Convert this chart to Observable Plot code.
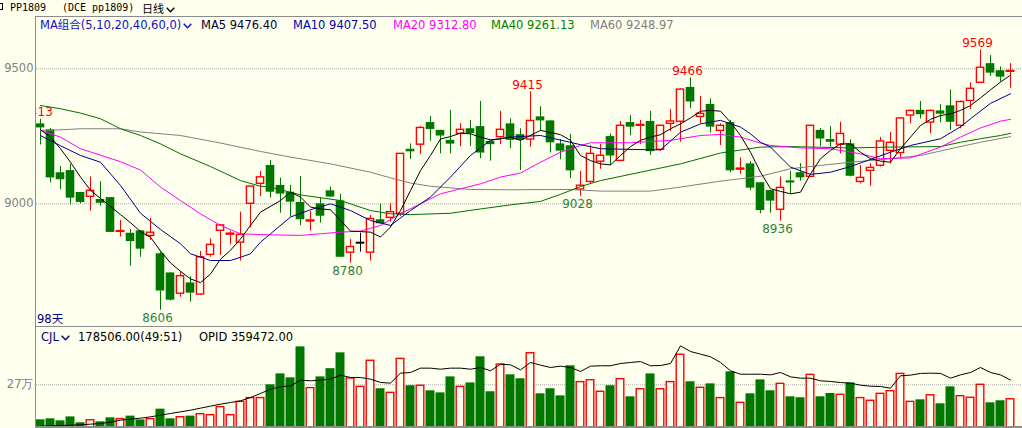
<!DOCTYPE html>
<html>
<head>
<meta charset="utf-8">
<script src="https://cdn.jsdelivr.net/npm/d3@7"></script>
<script src="https://cdn.jsdelivr.net/npm/@observablehq/plot@0.6"></script>
<style>
html,body{margin:0;padding:0;background:#FFFFED;}
#wrap{position:relative;width:1022px;height:428px;overflow:hidden;background:#FFFFED;font-family:"DejaVu Sans","Noto Sans CJK SC",sans-serif;font-size:11.5px;line-height:1;}
#wrap .t{position:absolute;white-space:nowrap;line-height:1;}
#wrap .ln{position:absolute;background:#8C8C8C;}
#wrap .pl{position:absolute;left:0;}
.chev{display:inline-block;vertical-align:baseline;margin-left:2px;}
</style>
</head>
<body>
<div id="wrap">
  <div class="t" style="left:-4px;top:3px;width:5px;height:5px;border:1px solid #000;"></div>
  <div class="t" style="left:10px;top:3px;font-family:'DejaVu Sans Mono',monospace;font-size:10px;color:#000;">PP1809</div>
  <div class="t" style="left:62px;top:3px;font-family:'DejaVu Sans Mono',monospace;font-size:10px;color:#000;">(DCE pp1809)</div>
  <div class="t" style="left:142px;top:2px;line-height:13px;font-family:'Noto Sans CJK SC',sans-serif;font-size:11px;color:#000;">日线<svg class="chev" width="9" height="6" viewBox="0 0 9 6"><polyline points="0.7,0.7 4.5,4.8 8.3,0.7" fill="none" stroke="#000" stroke-width="1.4"/></svg></div>

  <div class="t" style="left:40px;top:20px;color:#1010C8;">MA组合(5,10,20,40,60,0)<svg class="chev" width="9" height="6" viewBox="0 0 9 6"><polyline points="0.7,0.7 4.5,4.8 8.3,0.7" fill="none" stroke="#1010C8" stroke-width="1.4"/></svg></div>
  <div class="t" style="left:201px;top:20px;color:#000033;">MA5 9476.40</div>
  <div class="t" style="left:293px;top:20px;color:#0000B0;">MA10 9407.50</div>
  <div class="t" style="left:393px;top:20px;color:#FF00FF;">MA20 9312.80</div>
  <div class="t" style="left:491px;top:20px;color:#008000;">MA40 9261.13</div>
  <div class="t" style="left:590px;top:20px;color:#808080;">MA60 9248.97</div>

  <div class="t" style="left:37px;top:314px;color:#000080;">98天</div>

  <div class="t" style="left:41px;top:332px;color:#000080;">CJL<svg class="chev" width="9" height="6" viewBox="0 0 9 6"><polyline points="0.7,0.7 4.5,4.8 8.3,0.7" fill="none" stroke="#000080" stroke-width="1.4"/></svg></div>
  <div class="t" style="left:78px;top:332px;color:#000;">178506.00(49:51)</div>
  <div class="t" style="left:199px;top:332px;color:#000;">OPID 359472.00</div>
</div>
<script>
// ---------- data ----------
const priceTicks = [9000, 9500];
const volTicks = [270000];

const opens  = [9296,9274,9115,9123,9042,9026,9016,9023,8897,8891, 8900,8881,8815,8744,8667,8707,8664,8811,8900,8887,
                8856,9000,9074,9142,9068,9043,9005,8936,9000,9048, 9011,8819,8856,8819,8941,8948,8963,9202,9219,9301,
                9272,9235,9259,9278,9286,9231,9247,9296,9256,9238, 9322,9307,9222,9215,9053,9081,9156,9249,9159,9301,
                9289,9305,9200,9296,9304,9431,9322,9368,9270,9301, 9128,9148,9078,9049,8978,9085,9115,9100,9272,9238,
                9219,9222,9081,9122,9141,9196,9188,9327,9346,9301, 9344,9363,9289,9381,9448,9519,9493,9490];
const highs  = [9313,9279,9138,9146,9042,9099,9081,9023,8938,8905, 8900,8946,8821,8744,8749,8730,8823,8870,8923,8898,
                8969,9064,9120,9160,9095,9068,9101,8972,9021,9062, 9035,8868,8891,8957,8998,9000,9185,9222,9286,9323,
                9272,9346,9296,9309,9379,9231,9342,9315,9278,9415, 9360,9307,9238,9257,9120,9216,9220,9259,9305,9327,
                9309,9342,9291,9349,9426,9466,9398,9389,9296,9309, 9170,9157,9078,9049,9099,9120,9149,9289,9279,9286,
                9302,9237,9142,9149,9246,9264,9320,9347,9379,9347, 9367,9422,9381,9448,9569,9549,9507,9519];
const lows   = [9218,9077,9052,8996,9000,8973,8991,8894,8877,8769, 8802,8864,8606,8640,8654,8636,8660,8802,8809,8848,
                8788,8911,9027,9021,8965,8951,8919,8899,8928,9025, 8802,8780,8821,8788,8926,8932,8953,9164,9183,9232,
                9185,9185,9212,9212,9167,9158,9219,9204,9123,9210, 9269,9188,9163,9093,9028,9072,9128,9142,9159,9252,
                9219,9179,9194,9268,9228,9352,9296,9262,9216,9115, 9110,9049,8963,8965,8936,9037,9084,9100,9212,9210,
                9185,9100,9074,9065,9136,9147,9170,9296,9314,9259, 9300,9272,9278,9349,9448,9472,9451,9428];
const closes = [9281,9096,9089,9021,9005,9048,9002,8894,8899,8860, 8832,8893,8677,8643,8732,8669,8802,8848,8920,8889,
                8885,9064,9098,9043,9036,9006,8941,8938,8954,9025, 8802,8840,8856,8944,8926,8969,9185,9198,9281,9275,
                9251,9221,9274,9260,9188,9219,9274,9235,9235,9307, 9307,9226,9195,9122,9067,9185,9178,9177,9289,9284,
                9292,9193,9289,9305,9423,9377,9333,9284,9289,9122, 9130,9058,8975,9010,9059,9077,9096,9289,9240,9228,
                9259,9102,9096,9133,9231,9226,9316,9344,9330,9344, 9332,9302,9377,9426,9504,9484,9469,9492];
const volumes = [48500,55000,42000,67000,30000,46000,36000,61000,53000,72000,
                 48000,53000,116000,55000,65000,72000,84000,78000,129000,78000,
                 162000,186000,186000,270000,339000,314000,510000,249000,320000,372000,
                 472000,310000,257000,422000,245000,219000,434000,264000,264000,232000,
                 219000,320000,257000,282000,447000,226000,398000,333000,308000,470000,
                 213000,245000,200000,390000,287000,299000,226000,264000,306000,194000,
                 242000,339000,242000,287000,460000,289000,251000,276000,186000,352000,
                 156000,213000,301000,232000,276000,194000,188000,333000,194000,215000,
                 207000,282000,186000,169000,213000,230000,339000,162000,175000,204000,
                 150000,257000,198000,188000,270000,156000,169000,178506];
const openInterest = [10100,12600,15200,17700,20200,25300,30300,40400,55600,63200,
                 70800,80900,93500,106200,118800,131500,146600,161800,177000,189600,
                 202200,227500,257900,290700,308400,316000,359000,354000,359000,366600,
                 396900,379200,379200,366600,341300,336200,412000,417000,450000,450000,
                 442000,450000,450000,442000,455000,430000,480000,475000,437000,493000,
                 473000,455000,465000,455000,425000,465000,468000,468000,485000,493000,
                 500000,468000,470000,485000,619000,576000,556000,536000,493000,430000,
                 404000,404000,404000,399000,417000,384000,374000,374000,354000,349000,
                 341000,336000,321000,313000,311000,298000,392000,397000,410000,412000,
                 410000,374000,399000,417000,455000,417000,399000,359472];

// moving averages: [day index, value]
const ma5 = [[0,9274],[1,9247],[2,9204],[3,9154],[4,9099],[5,9050],[6,9020],[7,8990],[8,8960],[9,8930],[10,8897],[11,8876],[12,8825],[13,8781],[14,8750],[15,8722],[16,8708],[17,8740],[18,8795],[19,8828],[20,8870],[21,8920],[22,8969],[24,9012],[25,9043],[26,9025],[27,8988],[28,8981],[29,8978],[31,8899],[33,8895],[34,8877],[35,8914],[36,8975],[37,9049],[38,9123],[39,9179],[40,9240],[41,9249],[42,9262],[43,9259],[44,9247],[45,9237],[46,9241],[47,9247],[48,9235],[50,9272],[52,9256],[53,9235],[54,9179],[55,9160],[56,9148],[57,9144],[58,9179],[59,9212],[60,9235],[61,9247],[62,9256],[63,9278],[64,9296],[65,9318],[66,9343],[67,9346],[68,9343],[69,9302],[70,9253],[71,9191],[72,9117],[73,9056],[74,9046],[75,9037],[76,9043],[77,9111],[78,9167],[79,9198],[80,9222],[81,9222],[82,9191],[83,9167],[84,9158],[85,9154],[86,9204],[87,9247],[88,9290],[89,9313],[90,9327],[91,9333],[92,9346],[93,9364],[94,9392],[95,9422],[96,9451],[97,9476.4]];
const ma10 = [[0,9253],[2,9215],[4,9179],[6,9154],[8,9068],[10,8965],[12,8905],[14,8852],[15,8815],[17,8790],[19,8790],[20,8802],[21,8815],[22,8858],[23,8889],[25,8951],[27,8978],[29,9000],[31,8975],[33,8938],[35,8920],[37,8975],[39,9025],[41,9099],[43,9179],[45,9235],[47,9247],[50,9253],[54,9219],[56,9204],[61,9200],[62,9200],[64,9265],[66,9296],[68,9309],[70,9284],[71,9259],[72,9228],[73,9210],[75,9136],[77,9109],[79,9117],[81,9138],[85,9191],[87,9216],[90,9241],[92,9285],[93,9315],[95,9372],[97,9407.5]];
const ma20 = [[0,9272],[2,9247],[4,9204],[6,9180],[8,9156],[10,9125],[12,9062],[14,9012],[16,8963],[18,8920],[20,8889],[22,8886],[26,8883],[28,8889],[30,8895],[32,8899],[34,8920],[36,8963],[38,9000],[40,9037],[44,9074],[46,9099],[48,9114],[50,9154],[52,9191],[54,9216],[55,9226],[59,9226],[63,9235],[66,9253],[68,9257],[70,9247],[72,9225],[73,9216],[76,9207],[79,9204],[82,9185],[84,9167],[87,9170],[90,9210],[92,9247],[94,9281],[96,9306],[97,9312.8]];
const ma40 = [[0,9364],[2,9352],[4,9336],[6,9315],[8,9278],[10,9253],[12,9222],[14,9185],[17,9138],[20,9086],[22,9065],[23,9062],[26,9033],[30,9012],[33,8975],[35,8963],[37,8960],[41,8965],[44,8981],[47,8996],[50,9009],[52,9035],[54,9064],[56,9086],[60,9117],[64,9148],[68,9188],[72,9210],[75,9212],[81,9207],[85,9210],[90,9212],[92,9228],[94,9241],[96,9253],[97,9261.13]];
const ma60 = [[0,9272],[2,9274],[4,9278],[8,9278],[10,9266],[14,9253],[18,9225],[22,9194],[25,9173],[29,9148],[33,9117],[35,9096],[37,9077],[39,9065],[43,9053],[47,9052],[53,9053],[56,9047],[61,9047],[64,9062],[68,9084],[72,9102],[75,9130],[78,9142],[81,9154],[85,9167],[88,9179],[91,9204],[94,9228],[97,9248.97]];

const peakIdx = [0, 49, 65, 94];
const troughIdx = [12, 31, 54, 74];

// ---------- styling ----------
const BG = "#FFFFED", RED = "#FF0000", GREEN = "#007800", FLAT = "#000000";
const OI_TO_VOL = 0.834; // open interest drawn against the volume pane height

const bars = opens.map((o, i) => ({i, o, h: highs[i], l: lows[i], c: closes[i], v: volumes[i], oi: openInterest[i]}));
const colorOf = d => d.c > d.o ? RED : d.c < d.o ? GREEN : FLAT;
const pts = a => a.map(([i, v]) => ({i, v}));
const xScale = {type: "linear", domain: [-0.4, 98.2], axis: null};
const baseStyle = {background: "transparent", fontFamily: "DejaVu Sans, sans-serif", fontSize: "11.5px", color: "#808080"};

const main = Plot.plot({
  width: 1022, height: 327, marginTop: 17, marginRight: 0, marginBottom: 0, marginLeft: 36,
  style: baseStyle,
  x: xScale,
  y: {domain: [8541.9, 9690], ticks: priceTicks, tickSize: 0, tickPadding: 3, tickFormat: d => String(d), label: null},
  marks: [
    Plot.ruleY(priceTicks, {stroke: "#A8A8A8", strokeDasharray: "1,1"}),
    Plot.ruleX(bars, {x: "i", y1: "l", y2: "h", stroke: colorOf, strokeWidth: 1}),
    Plot.rect(bars, {filter: d => d.c < d.o, x1: d => d.i - 0.43, x2: d => d.i + 0.43, y1: "o", y2: "c", fill: GREEN}),
    Plot.rect(bars, {filter: d => d.c > d.o, x1: d => d.i - 0.36, x2: d => d.i + 0.36, y1: "o", y2: "c", fill: BG, stroke: RED, strokeWidth: 1.4}),
    Plot.ruleY(bars, {filter: d => Math.abs(d.c - d.o) < 6, y: "c", x1: d => d.i - 0.43, x2: d => d.i + 0.43, stroke: colorOf, strokeWidth: 2}),
    Plot.line(pts(ma60), {x: "i", y: "v", stroke: "#808080", strokeWidth: 1}),
    Plot.line(pts(ma40), {x: "i", y: "v", stroke: "#007000", strokeWidth: 1}),
    Plot.line(pts(ma20), {x: "i", y: "v", stroke: "#FF00FF", strokeWidth: 1}),
    Plot.line(pts(ma10), {x: "i", y: "v", stroke: "#000080", strokeWidth: 1}),
    Plot.line(pts(ma5), {x: "i", y: "v", stroke: "#000000", strokeWidth: 1}),
    Plot.text(peakIdx.map(i => bars[i]), {x: "i", y: "h", text: d => String(d.h), dx: -3, dy: -3, lineAnchor: "bottom", fill: RED, fontSize: 12, clip: true}),
    Plot.text(troughIdx.map(i => bars[i]), {x: "i", y: "l", text: d => String(d.l), dx: -3, dy: 3, lineAnchor: "top", fill: "#2F7F3F", fontSize: 12})
  ]
});

const vol = Plot.plot({
  width: 1022, height: 101, marginTop: 0, marginRight: 0, marginBottom: 1, marginLeft: 36,
  style: baseStyle,
  x: xScale,
  y: {domain: [0, 632300], ticks: volTicks, tickSize: 0, tickPadding: 3, tickFormat: d => (d / 10000) + "万", label: null},
  marks: [
    Plot.ruleY(volTicks, {stroke: "#A8A8A8", strokeDasharray: "1,1"}),
    Plot.rect(bars, {filter: d => d.c < d.o, x1: d => d.i - 0.45, x2: d => d.i + 0.45, y1: 0, y2: "v", fill: GREEN}),
    Plot.rect(bars, {filter: d => d.c >= d.o, x1: d => d.i - 0.38, x2: d => d.i + 0.38, y1: 0, y2: "v", fill: BG, stroke: RED, strokeWidth: 1.4}),
    Plot.line(bars, {x: "i", y: d => d.oi * OI_TO_VOL, stroke: "#000000", strokeWidth: 1})
  ]
});

const wrap = document.getElementById("wrap");
function place(node, top) {
  const d = document.createElement("div");
  d.className = "pl";
  d.style.top = top + "px";
  d.appendChild(node);
  wrap.insertBefore(d, wrap.firstChild);
}
place(vol, 327);
place(main, 0);

// panel border lines
[[35, 16, 987, 1], [35, 16, 1, 412], [35, 326, 987, 1], [35, 426, 987, 2]].forEach(([l, t, w, h]) => {
  const e = document.createElement("div");
  e.className = "ln";
  e.style.cssText = `left:${l}px;top:${t}px;width:${w}px;height:${h}px;`;
  wrap.appendChild(e);
});
</script>
</body>
</html>
